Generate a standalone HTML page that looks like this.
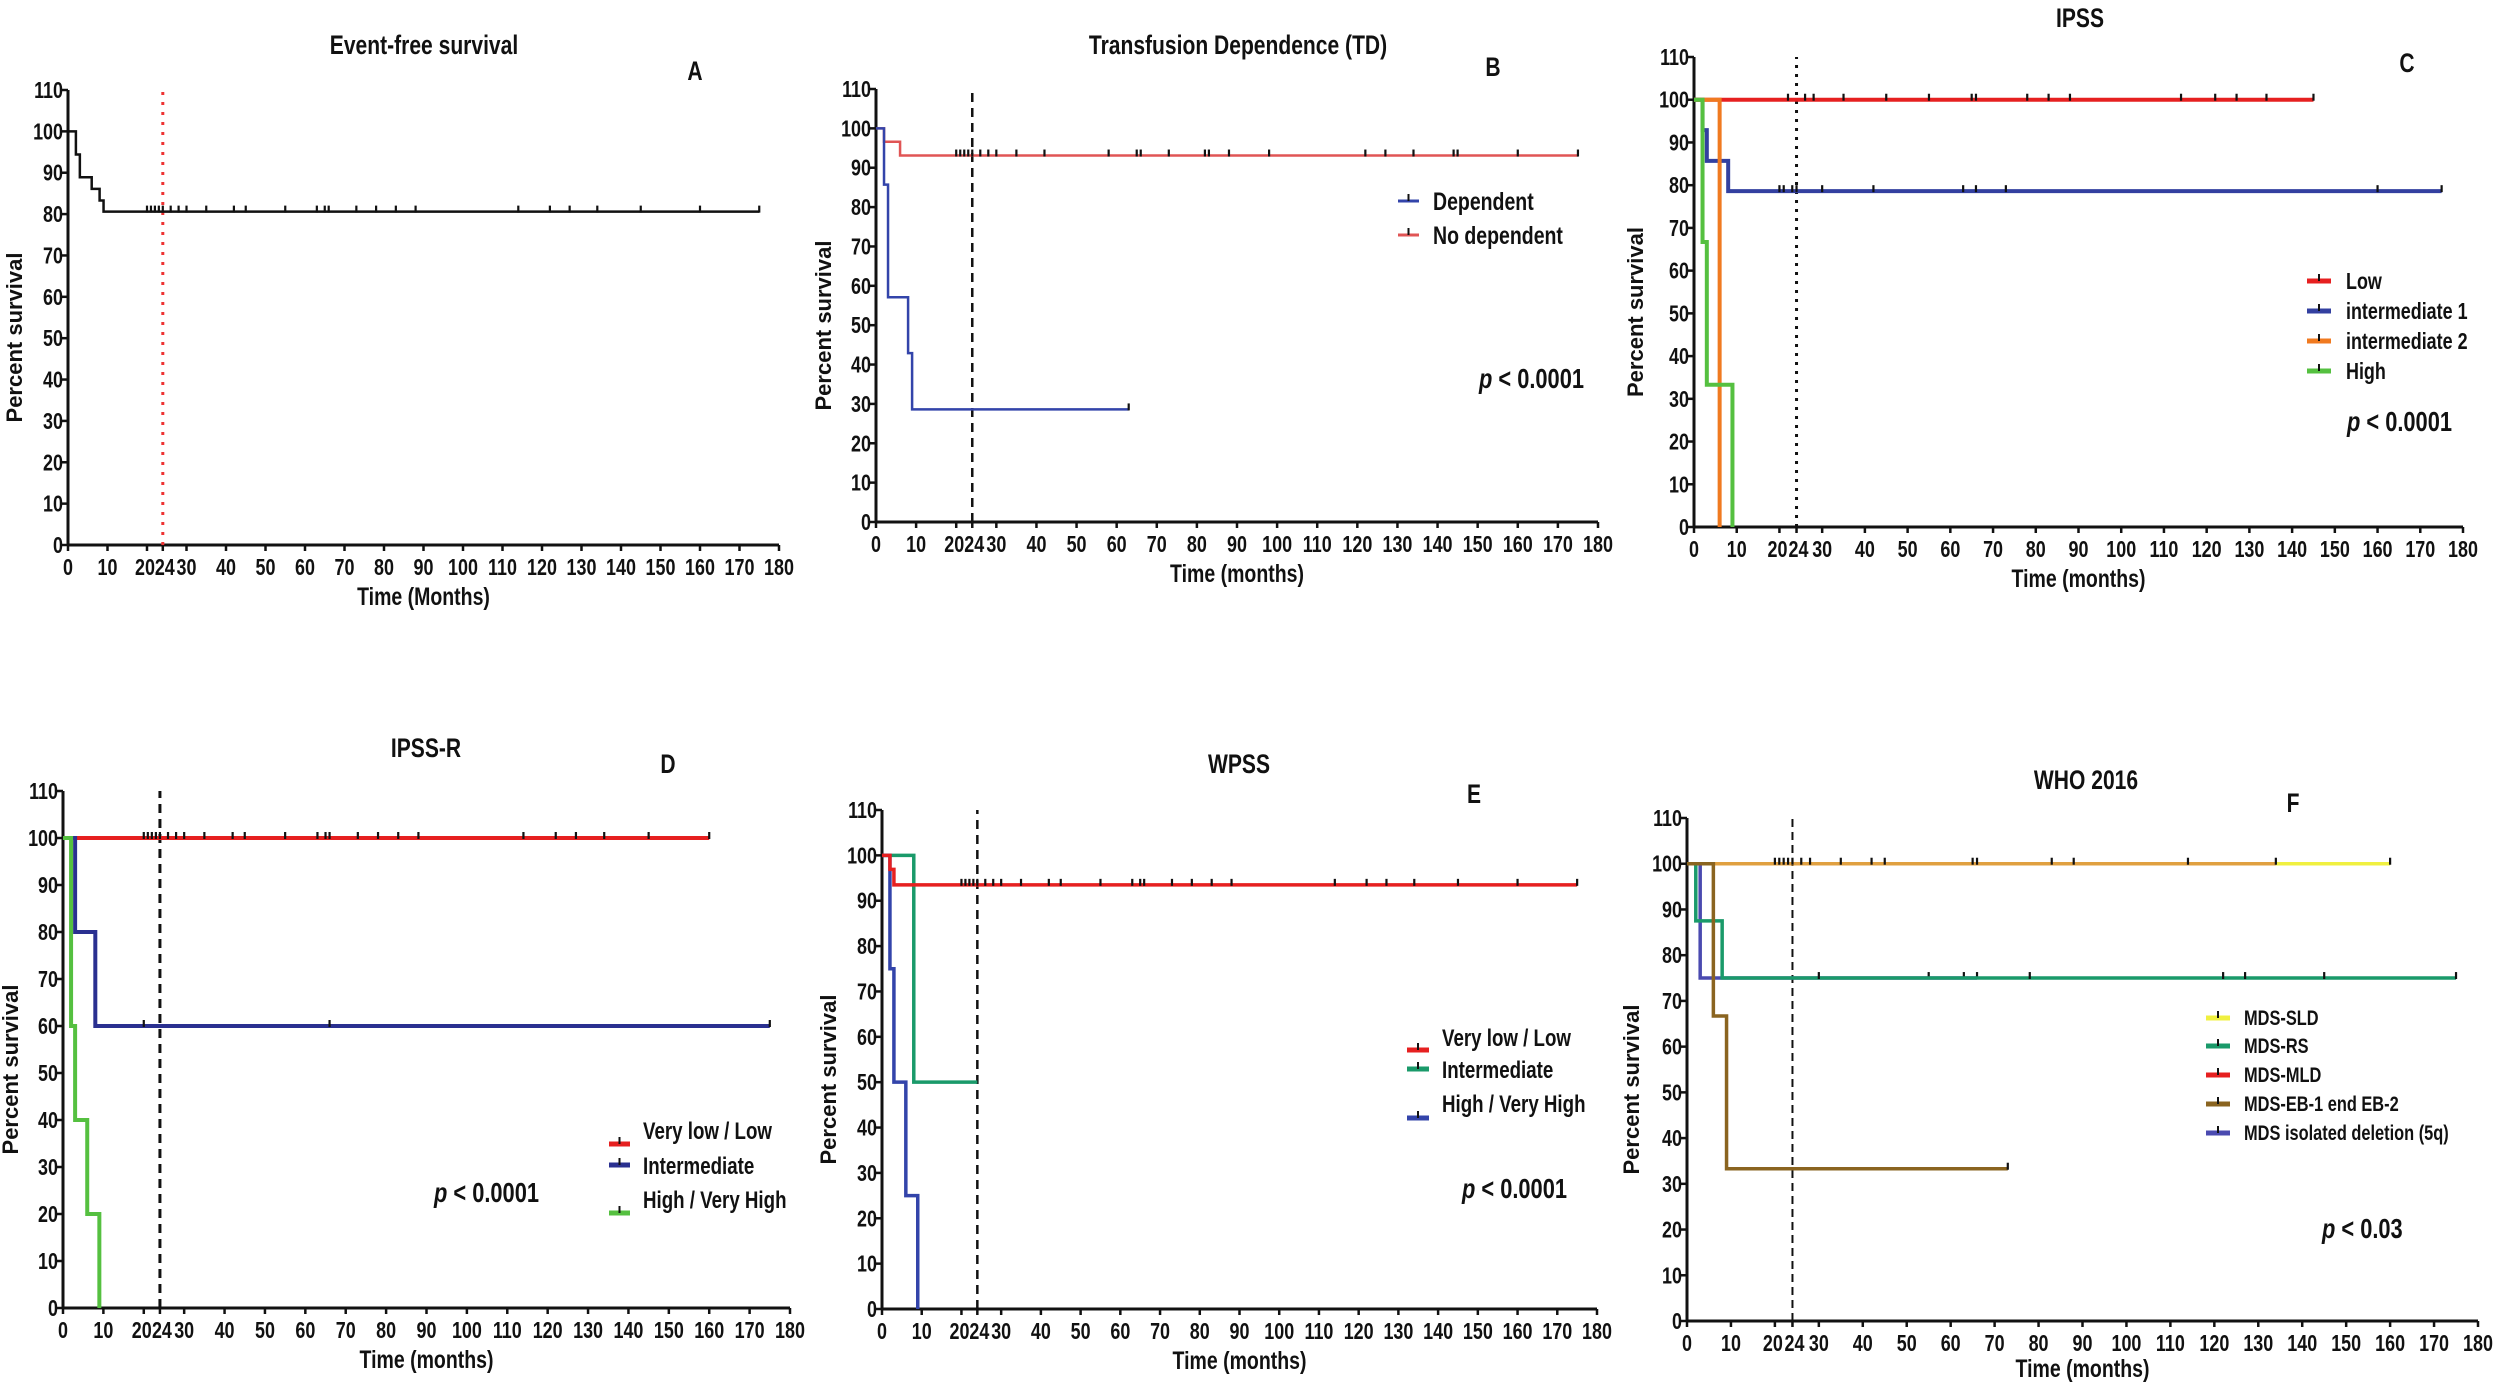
<!DOCTYPE html>
<html><head><meta charset="utf-8"><style>
html,body{margin:0;padding:0;background:#fff;}
svg{display:block;}
text{font-family:"Liberation Sans",sans-serif;font-weight:bold;fill:#111;}
</style></head><body>
<svg id="fig" width="2497" height="1384" viewBox="0 0 2497 1384" xmlns="http://www.w3.org/2000/svg"></svg>
<script>
// ---- data (months, percent survival) ----
const xTicks=[0,10,20,24,30,40,50,60,70,80,90,100,110,120,130,140,150,160,170,180];
const yTicks=[0,10,20,30,40,50,60,70,80,90,100,110];
// A
const aT=[0,2,3,6,8,9,175];
const aS=[100,94.4,88.9,86.1,83.3,80.6,80.6];
const aC=[20,21,22,23,24,26,28,30,35,42,45,55,63,65,66,73,78,83,88,114,122,127,134,145,160,175];
// B
const bDepT=[0,2,3,8,9,63];
const bDepS=[100,85.7,57.1,42.9,28.6,28.6];
const bDepC=[63];
const bNoT=[0,2,6,175];
const bNoS=[100,96.6,93.1,93.1];
const bNoC=[20,21,22,23,24,26,28,30,35,42,58,65,66,73,82,83,88,98,122,127,134,144,145,160,175];
// C
const cLowT=[0,145];const cLowS=[100,100];
const cLowC=[22,26,28,35,45,55,65,66,78,83,88,114,122,127,134,145];
const cI1T=[0,2,3,8,175];const cI1S=[100,92.9,85.7,78.6,78.6];
const cI1C=[20,21,23,24,30,42,63,66,73,160,175];
const cI2T=[0,6];const cI2S=[100,0];
const cHiT=[0,2,3,9];const cHiS=[100,66.7,33.3,0];
// D
const dLowT=[0,160];const dLowS=[100,100];
const dLowC=[20,21,22,23,24,26,28,30,35,42,45,55,63,65,66,73,78,83,88,114,122,127,134,145,160];
const dIntT=[0,3,8,175];const dIntS=[100,80,60,60];
const dIntC=[20,66,175];
const dHiT=[0,2,3,6,9];const dHiS=[100,60,40,20,0];
// E
const eLowT=[0,2,3,175];const eLowS=[100,96.9,93.5,93.5];
const eLowC=[20,21,22,23,24,26,28,30,35,42,45,55,63,65,66,73,78,83,88,114,122,127,134,145,160,175];
const eIntT=[0,8,24];const eIntS=[100,50,50];
const eHiT=[0,2,3,6,9];const eHiS=[100,75,50,25,0];
// F
const fSldT=[0,160];const fSldS=[100,100];const fSldC=[160];
const fMldT=[0,134];const fMldS=[100,100];
const fMldC=[20,21,22,23,24,26,28,35,42,45,65,66,83,88,114,134];
const fRsT=[0,2,8,175];const fRsS=[100,87.5,75,75];
const fRsC=[30,78,122,127,145,175];
const f5qT=[0,3,66];const f5qS=[100,75,75];
const f5qC=[55,63,66];
const fEbT=[0,6,9,73];const fEbS=[100,66.7,33.3,33.3];
const fEbC=[73];

const NS="http://www.w3.org/2000/svg";
const svg=document.getElementById('fig');
const SQ=0.78;
function mk(tag,attrs,parent){const e=document.createElementNS(NS,tag);for(const k in attrs)e.setAttribute(k,attrs[k]);(parent||svg).appendChild(e);return e;}
function txt(s,x,y,size,parent,anchor,extra){
  const t=mk('text',Object.assign({x:0,y:0,'font-size':size,'text-anchor':anchor||'middle',transform:`translate(${x} ${y}) scale(${SQ} 1)`},extra||{}),parent);
  t.textContent=s;return t;}

function panel(p){
  const g=mk('g',{});
  
  
  const sx=v=>p.x0+(p.x1-p.x0)*v/180;
  const sy=v=>p.y0-(p.y0-p.y1)*v/110;
  const ti=txt(p.title,p.tx,p.ty,27,g);
  
  
  const lb=txt(p.label,p.lx,p.ly,27,g);
  
  
  const ax=mk('g',{},g);
  
  
  mk('line',{x1:p.x0,y1:p.y0,x2:p.x1,y2:p.y0,stroke:'#111','stroke-width':3},ax);
  mk('line',{x1:p.x0,y1:p.y0+1,x2:p.x0,y2:p.y1,stroke:'#111','stroke-width':3},ax);
  yTicks.forEach(v=>{
    mk('line',{x1:p.x0-6,y1:sy(v),x2:p.x0,y2:sy(v),stroke:'#111','stroke-width':2.5},ax);
    const t=txt(String(v),p.x0-5,sy(v)+8,23,ax,'end');
    
    
  });
  xTicks.forEach(v=>{
    mk('line',{x1:sx(v),y1:p.y0,x2:sx(v),y2:p.y0+6,stroke:'#111','stroke-width':2.5},ax);
    const dx=v===24?2:(v===20?-2:0);
    const t=txt(String(v),sx(v)+dx,p.y0+30,23,ax,'middle');
    
    
  });
  const xt=txt(p.xtitle,(p.x0+p.x1)/2,p.y0+(p.xto||60),25,g);
  
  
  const ym=(p.y0+p.y1)/2+20;
  const yt=mk('text',{x:p.ylx,y:ym,'font-size':22,'text-anchor':'middle',transform:`rotate(-90 ${p.ylx} ${ym})`},g);
  yt.textContent='Percent survival';
  
  
  const rl=mk('line',{x1:sx(24),y1:p.y0,x2:sx(24),y2:p.y1,stroke:p.refColor,'stroke-width':p.refW,'stroke-dasharray':p.refDash},g);
  
  
  p.series.forEach(s=>{
    let d=`M${sx(s.t[0])},${sy(s.s[0])}`;
    for(let i=1;i<s.t.length;i++){d+=` H${sx(s.t[i])} V${sy(s.s[i])}`;}
    const path=mk('path',{d:d,fill:'none',stroke:s.color,'stroke-width':p.lw},g);
    
    
    (s.c||[]).forEach(c=>{
      let val=s.s[0];for(let i=0;i<s.t.length;i++){if(s.t[i]<=c)val=s.s[i];}
      const m=mk('line',{x1:sx(c),y1:sy(val)-6,x2:sx(c),y2:sy(val)+1,stroke:'#111','stroke-width':2.2},g);
      
      
    });
  });
  if(p.legend){
    p.legend.forEach(l=>{
      const lg=mk('g',{},g);
      
      
      mk('line',{x1:p.legend.lx0,y1:l.ly,x2:p.legend.lx1,y2:l.ly,stroke:l.color,'stroke-width':p.legend.lw},lg);
      mk('line',{x1:(p.legend.lx0+p.legend.lx1)/2,y1:l.ly-7,x2:(p.legend.lx0+p.legend.lx1)/2,y2:l.ly,stroke:'#111','stroke-width':2},lg);
      txt(l.text,p.legend.tx,l.ty,p.legend.fs,lg,'start');
    });
  }
  if(p.p){
    const pt=mk('text',{x:0,y:0,'font-size':28,'text-anchor':'start',transform:`translate(${p.p[0]} ${p.p[1]}) scale(${SQ} 1)`},g);
    
    
    const i=mk('tspan',{'font-style':'italic'},pt);i.textContent='p';
    const r=mk('tspan',{},pt);r.textContent=' < '+p.p[2];
  }
}

panel({name:'panel-a-event-free',title:'Event-free survival',tx:424,ty:54,label:'A',lx:695,ly:80,
 x0:68,x1:779,y0:545,y1:90,xtitle:'Time (Months)',ylx:22,refColor:'#e33',refW:3,refDash:'3 7',lw:2.5,
 series:[{id:'event-free',t:aT,s:aS,c:aC,color:'#111'}]});

const lgB=[{text:'Dependent',color:'#3344aa',ly:201,ty:210},{text:'No dependent',color:'#e05555',ly:235,ty:244}];
lgB.lx0=1398;lgB.lx1=1419;lgB.tx=1433;
lgB.lw=3;lgB.fs=25;
panel({name:'panel-b-transfusion',title:'Transfusion Dependence (TD)',tx:1238,ty:54,label:'B',lx:1493,ly:76,
 x0:876,x1:1598,y0:522,y1:89,xtitle:'Time (months)',ylx:831,refColor:'#111',refW:2.5,refDash:'9 6',lw:2.5,
 series:[{id:'no-dependent',t:bNoT,s:bNoS,c:bNoC,color:'#e05555'},{id:'dependent',t:bDepT,s:bDepS,c:bDepC,color:'#3344aa'}],
 legend:lgB,p:[1479,388,'0.0001']});

const lgC=[{text:'Low',color:'#e62020',ly:281,ty:289},{text:'intermediate 1',color:'#3340a0',ly:311,ty:319},
 {text:'intermediate 2',color:'#f07a20',ly:341,ty:349},{text:'High',color:'#55c040',ly:371,ty:379}];
lgC.lx0=2307;lgC.lx1=2331;lgC.tx=2346;lgC.lw=5;lgC.fs=23;
panel({name:'panel-c-ipss',title:'IPSS',tx:2080,ty:27,label:'C',lx:2407,ly:72,
 x0:1694,x1:2463,y0:527,y1:57,xtitle:'Time (months)',ylx:1643,refColor:'#111',refW:3,refDash:'3 6',lw:4,
 series:[{id:'low',t:cLowT,s:cLowS,c:cLowC,color:'#e62020'},{id:'intermediate-1',t:cI1T,s:cI1S,c:cI1C,color:'#3340a0'},
 {id:'intermediate-2',t:cI2T,s:cI2S,c:[],color:'#f07a20'},{id:'high',t:cHiT,s:cHiS,c:[],color:'#55c040'}],
 legend:lgC,p:[2347,431,'0.0001']});

const lgD=[{text:'Very low / Low',color:'#e62020',ly:1144,ty:1139},{text:'Intermediate',color:'#2a3090',ly:1165,ty:1174},
 {text:'High / Very High',color:'#55c040',ly:1213,ty:1208}];
lgD.lx0=609;lgD.lx1=630;lgD.tx=643;lgD.lw=5;lgD.fs=24;
panel({name:'panel-d-ipss-r',title:'IPSS-R',tx:426,ty:757,label:'D',lx:668,ly:773,
 x0:63,x1:790,y0:1308,y1:791,xtitle:'Time (months)',ylx:18,refColor:'#111',refW:3,refDash:'9 6',lw:4,
 series:[{id:'very-low-low',t:dLowT,s:dLowS,c:dLowC,color:'#e62020'},{id:'intermediate',t:dIntT,s:dIntS,c:dIntC,color:'#2a3090'},
 {id:'high-very-high',t:dHiT,s:dHiS,c:[],color:'#55c040'}],
 legend:lgD,p:[434,1202,'0.0001']});

const lgE=[{text:'Very low / Low',color:'#e62020',ly:1050,ty:1046},{text:'Intermediate',color:'#1a9a6a',ly:1069,ty:1078},
 {text:'High / Very High',color:'#3344aa',ly:1118,ty:1112}];
lgE.lx0=1407;lgE.lx1=1429;lgE.tx=1442;lgE.lw=5;lgE.fs=24;
panel({name:'panel-e-wpss',title:'WPSS',tx:1239,ty:773,label:'E',lx:1474,ly:803,
 x0:882,x1:1597,y0:1309,y1:810,xtitle:'Time (months)',ylx:836,refColor:'#111',refW:2.5,refDash:'9 6',lw:3.5,
 series:[{id:'intermediate',t:eIntT,s:eIntS,c:[],color:'#1a9a6a'},{id:'high-very-high',t:eHiT,s:eHiS,c:[],color:'#3344aa'},
 {id:'very-low-low',t:eLowT,s:eLowS,c:eLowC,color:'#e62020'}],
 legend:lgE,p:[1462,1198,'0.0001']});

const lgF=[{text:'MDS-SLD',color:'#f0f040',ly:1018,ty:1025},{text:'MDS-RS',color:'#1a9a6a',ly:1046,ty:1053},
 {text:'MDS-MLD',color:'#e62020',ly:1075,ty:1082},{text:'MDS-EB-1 end EB-2',color:'#8a6420',ly:1104,ty:1111},
 {text:'MDS isolated deletion (5q)',color:'#4a4ab0',ly:1133,ty:1140}];
lgF.lx0=2206;lgF.lx1=2230;lgF.tx=2244;lgF.lw=5;lgF.fs=21;
panel({name:'panel-f-who-2016',title:'WHO 2016',tx:2086,ty:789,label:'F',lx:2293,ly:812,
 x0:1687,x1:2478,y0:1321,y1:818,xtitle:'Time (months)',xto:56,ylx:1639,refColor:'#111',refW:2,refDash:'8 5',lw:3.5,
 series:[{id:'mds-sld',t:fSldT,s:fSldS,c:fSldC,color:'#f0f040'},{id:'mds-mld',t:fMldT,s:fMldS,c:fMldC,color:'#e0a040'},
 {id:'mds-5q',t:f5qT,s:f5qS,c:f5qC,color:'#4a4ab0'},{id:'mds-rs',t:fRsT,s:fRsS,c:fRsC,color:'#1a9a6a'},
 {id:'mds-eb',t:fEbT,s:fEbS,c:fEbC,color:'#8a6420'}],
 legend:lgF,p:[2322,1238,'0.03']});
</script>
</body></html>
